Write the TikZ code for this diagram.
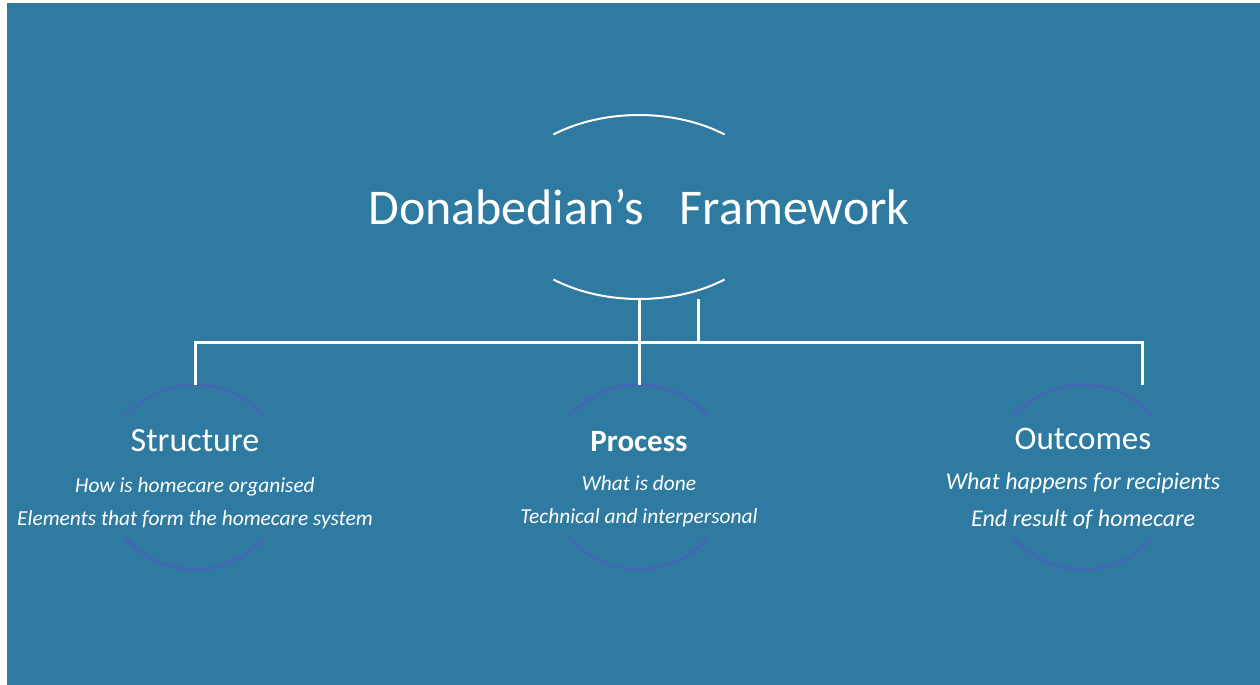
\documentclass[tikz,border=0pt]{standalone}
\usepackage{fontspec}
\setmainfont{Carlito}
\usepackage{xcolor}
\usepackage{tikz}
\usetikzlibrary{shapes.geometric, positioning}
\definecolor{slide}{RGB}{47,122,160}
\definecolor{ring}{RGB}{70,100,182}
\tikzset{
    headline/.style={ellipse, minimum width=139pt, minimum height=92pt, inner sep=0pt, text=white, font=\fontsize{25}{30}\selectfont},
    stage/.style={circle, minimum size=92pt, inner sep=0pt},
    stagetitle/.style={anchor=base, inner sep=0pt, text=white, font=\fontsize{17}{20}\selectfont},
    stagetext/.style={anchor=base, inner sep=0pt, align=center, text=white, font=\fontsize{10.7}{16.5}\selectfont\itshape},
    branch/.style={draw=white, line width=1.5pt},
    toparc/.style={draw=white, line width=1pt},
    ringarc/.style={draw=ring, line width=1.3pt}
}

\begin{document}
\begin{tikzpicture}[x=0.5pt, y=0.5pt]
    % Slide background
    \useasboundingbox (0,0) rectangle (1260,-685);
    \fill[white] (0,0) rectangle (1260,-685);
    \fill[slide] (7,-3) rectangle (1260,-685);

    % Framework title
    \node[headline] (frame) at (639,-207) {Donabedian’s\hspace{0.5em} Framework};
    \draw[toparc] ([shift={(128:69.5pt and 46pt)}]frame.center) arc[start angle=128, end angle=52, x radius=69.5pt, y radius=46pt];
    \draw[toparc] ([shift={(232:69.5pt and 46pt)}]frame.center) arc[start angle=232, end angle=308, x radius=69.5pt, y radius=46pt];

    % Three stages
    \node[stage] (structure) at (195,-477) {};
    \node[stage] (process) at (639,-477) {};
    \node[stage] (outcomes) at (1083,-477) {};

    \foreach \s in {structure, process, outcomes} {
        \draw[ringarc] (\s.139) arc[start angle=139, end angle=41, radius=46pt];
        \draw[ringarc] (\s.221) arc[start angle=221, end angle=319, radius=46pt];
    }

    % base anchor sits on the last line
    \node[stagetitle] (structure title) at (195,-451) {Structure};
    \node[stagetext] (structure text) at (195,-525) {How is homecare organised\\Elements that form the homecare system};

    \node[stagetitle, font=\fontsize{15.5}{20}\selectfont\bfseries] (process title) at (639,-451) {Process};
    \node[stagetext] (process text) at (639,-523) {What is done\\Technical and interpersonal};

    \node[stagetitle, font=\fontsize{16.5}{20}\selectfont] (outcomes title) at (1083,-449) {Outcomes};
    \node[stagetext, font=\fontsize{12}{18.5}\selectfont\itshape] (outcomes text) at (1083,-526) {What happens for recipients\\End result of homecare};

    % Connections
    \coordinate (outcomes tap) at (1142,-342);
    \coordinate (side tap) at (698,-342);
    \draw[branch] (frame.south) -- (process.north);
    \draw[branch] (side tap) -- (side tap |- frame.south);
    \draw[branch] (structure.north) |- (outcomes tap) -- (outcomes tap |- outcomes.north);
\end{tikzpicture}
\end{document}
